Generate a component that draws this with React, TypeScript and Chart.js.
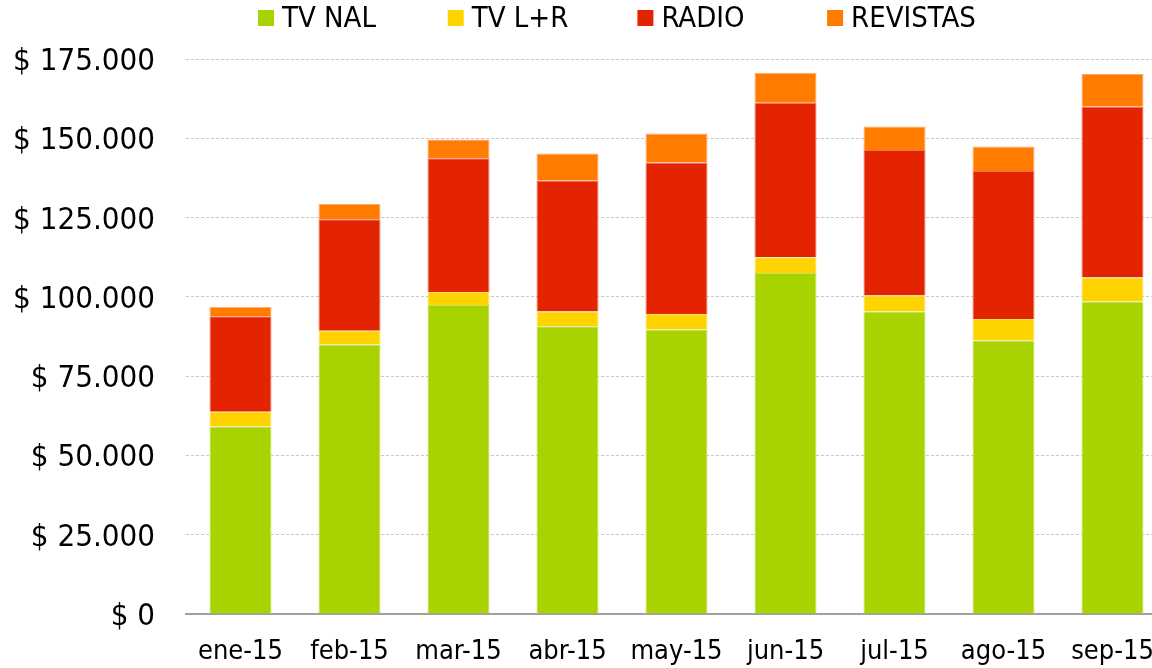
import React, { useEffect, useRef } from "react";
import { Chart, registerables } from "chart.js";

Chart.register(...registerables);

const categories = ["ene-15", "feb-15", "mar-15", "abr-15", "may-15", "jun-15", "jul-15", "ago-15", "sep-15"];
const tvNal = [59100, 85000, 97400, 90700, 89700, 107500, 95400, 86200, 98500];
const tvLR = [4700, 4300, 4100, 4700, 4900, 5000, 5000, 6800, 7600];
const radio = [30100, 35200, 42200, 41300, 47800, 48700, 45900, 46700, 53900];
const revistas = [3000, 4800, 5900, 8500, 9100, 9500, 7400, 7700, 10300];
const seriesNames = ["TV NAL", "TV L+R", "RADIO", "REVISTAS"];
const yTicks = [0, 25000, 50000, 75000, 100000, 125000, 150000, 175000];

const FONT = "'DejaVu Sans Condensed', 'DejaVu Sans', sans-serif";

const fmt = (v: number) => "$ " + Math.round(v).toString().replace(/\B(?=(\d{3})+(?!\d))/g, ".");

const customLegend = {
  id: "customLegend",
  afterDraw(chart: any) {
    const ctx = chart.ctx;
    ctx.save();
    ctx.font = `29px ${FONT}`;
    ctx.textBaseline = "middle";
    ctx.textAlign = "left";
    const box = 16;
    const slot = 189.7;
    const startX = 258;
    const cy = 18;
    chart.data.datasets.forEach((d: any, i: number) => {
      const x = startX + i * slot;
      ctx.fillStyle = d.backgroundColor;
      ctx.fillRect(x, cy - box / 2, box, box);
      ctx.fillStyle = "#000";
      ctx.fillText(d.label, x + 24, cy + 1);
    });
    ctx.restore();
  },
};

export default function App() {
  const ref = useRef<HTMLCanvasElement>(null);
  useEffect(() => {
    if (!ref.current) return;
    const chart = new Chart(ref.current, {
      type: "bar",
      data: {
        labels: categories,
        datasets: [
          { label: seriesNames[0], data: tvNal, backgroundColor: "#A8D300", borderColor: "#C6E25A", borderWidth: 1 },
          { label: seriesNames[1], data: tvLR, backgroundColor: "#FFD300", borderColor: "#FFE466", borderWidth: 1 },
          { label: seriesNames[2], data: radio, backgroundColor: "#E42400", borderColor: "#F07050", borderWidth: 1 },
          { label: seriesNames[3], data: revistas, backgroundColor: "#FF7C00", borderColor: "#FFAA60", borderWidth: 1 },
        ],
      },
      options: {
        responsive: false,
        animation: false,
        devicePixelRatio: 1,
        layout: { autoPadding: false, padding: { top: 59, left: 0, right: 0, bottom: 0 } },
        plugins: { legend: { display: false }, tooltip: { enabled: false } },
        datasets: { bar: { barPercentage: 0.569, categoryPercentage: 1 } },
        scales: {
          x: {
            stacked: true,
            grid: { display: false, drawTicks: false },
            border: { display: true, color: "#A0A0A0", width: 2 },
            ticks: { font: { family: FONT, size: 27 }, color: "#000", padding: 22, maxRotation: 0 },
            afterFit: (s: any) => {
              s.height = 54;
              s.paddingLeft = 0;
              s.paddingRight = 0;
            },
          },
          y: {
            stacked: true,
            min: 0,
            max: 175000,
            afterBuildTicks: (s: any) => { s.ticks = yTicks.map((v) => ({ value: v })); },
            grid: {
              drawTicks: false,
              color: (c: any) => (c.tick && c.tick.value === 0 ? "rgba(0,0,0,0)" : "#C8C8C8"),
              lineWidth: 1,
            },
            border: { display: false, dash: [3, 2] },
            ticks: {
              font: { family: FONT, size: 31 },
              color: "#000",
              padding: 31,
              labelOffset: 3,
              callback: (v: any) => fmt(Number(v)),
            },
            afterFit: (s: any) => {
              s.width = 186;
              s.paddingTop = 0;
              s.paddingBottom = 0;
            },
          },
        },
      },
      plugins: [customLegend],
    });
    return () => chart.destroy();
  }, []);
  return (
    <div style={{ position: "fixed", left: 0, top: 0, width: 1152, height: 668, overflow: "hidden", background: "#fff" }}>
      <canvas ref={ref} width={1167} height={668} style={{ width: 1167, height: 668, display: "block" }} />
    </div>
  );
}
